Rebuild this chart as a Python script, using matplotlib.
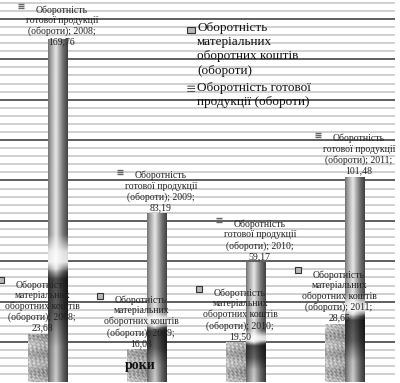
import numpy as np
import matplotlib.pyplot as plt
from matplotlib.transforms import offset_copy

years = ['2008', '2009', '2010', '2011']
materials = [23.68, 16.03, 19.50, 28.65]
products = [169.76, 83.19, 59.17, 101.48]
mat_name = 'Оборотність\nматеріальних\nоборотних коштів\n(обороти)'
prod_name = 'Оборотність готової\nпродукції (обороти)'
x_label = 'роки'

plt.rcParams['font.family'] = ['Liberation Serif', 'DejaVu Serif']

fig = plt.figure(figsize=(4, 3.83), dpi=100)
ax = fig.add_axes([0, 0, 0.9875, 1])

w = 0.2
x = np.arange(len(years))
# vertical pixel offset of the product labels (the first one sits on its bar)
prod_dy = [-7, 2, 2, 2]
line_px = 11.6


def fmt(v):
    return ('%.2f' % v).replace('.', ',')


def speckle(h):
    # stone-like texture for the materials bars
    ny = max(int(h * 2), 4)
    X, Y = np.meshgrid(np.arange(20), np.arange(ny))
    t = (0.72 + 0.10 * np.sin(0.9 * X + 1.2 * Y) * np.sin(0.55 * X - 0.8 * Y)
         + 0.07 * np.sin(1.3 * X - 0.7 * Y + 1.0) * np.cos(0.6 * Y + 0.3 * X)
         + 0.05 * np.sin(2.1 * X + 1.7 * Y))
    t = t + 0.06 * np.cos(0.35 * Y) - 0.10 * (X / 19.0)
    return np.clip(t, 0, 1)


def cylinder(h):
    # shaded column for the finished products bars
    ny = max(int(h * 2), 4)
    xs = np.linspace(0, 1, 24)
    hp = np.interp(xs, [0, 0.15, 0.4, 0.75, 1], [0.45, 0.65, 0.9, 0.45, 0.25])
    f = np.linspace(0, 1, ny)
    white = np.interp(f, [0, 0.57, 0.62, 0.65, 0.68, 1], [0, 0.05, 0.8, 0.85, 0, 0])
    dark = np.interp(f, [0, 0.67, 0.70, 0.8, 0.9, 1], [1, 1, 0.35, 0.45, 0.85, 0.9])
    img = hp[None, :] * (1 - white[:, None]) + white[:, None]
    img = img * dark[:, None]
    return np.clip(img, 0, 1)


for i in range(len(years)):
    ax.imshow(speckle(materials[i]), cmap='gray', vmin=0, vmax=1, aspect='auto',
              extent=[x[i] - w, x[i], 0, materials[i]], origin='lower',
              interpolation='bilinear', zorder=2)
    ax.imshow(cylinder(products[i]), cmap='gray', vmin=0, vmax=1, aspect='auto',
              extent=[x[i], x[i] + w, 0, products[i]], origin='upper',
              interpolation='bilinear', zorder=2)

# data labels
for i in range(len(years)):
    for xc, v, txt, n, key, dy in [
            (x[i] - w / 2, materials[i],
             'Оборотність\nматеріальних\nоборотних коштів\n(обороти); %s;\n%s' % (years[i], fmt(materials[i])),
             5, 'm', 2),
            (x[i] + w / 2, products[i],
             'Оборотність\nготової продукції\n(обороти); %s;\n%s' % (years[i], fmt(products[i])),
             4, 'p', prod_dy[i])]:
        ax.annotate(txt, xy=(xc, v), xytext=(4.5, dy), textcoords='offset pixels',
                    ha='center', va='bottom', fontsize=7, linespacing=1.2,
                    color='#222222', zorder=5, annotation_clip=False)
        ky = dy + 6 + (n - 1) * line_px
        tr = offset_copy(ax.transData, fig=fig, x=4.5 - 41, y=ky, units='dots')
        if key == 'm':
            ax.plot([xc], [v], marker='s', ms=4.5, mfc='#b8b8b8', mec='#333333',
                    mew=0.8, transform=tr, zorder=6, clip_on=False)
        else:
            ax.plot([xc], [v], marker='$\\equiv$', ms=5, color='#666666',
                    transform=tr, zorder=6, clip_on=False)

ax.set_xlim(-0.48, 3.51)
ax.set_ylim(-0.25, 189.35)
ax.set_yticks(np.arange(20, 190, 20))
ax.set_yticks(np.arange(4, 190, 4), minor=True)
ax.set_axisbelow(True)
ax.grid(axis='y', which='major', color='#333333', lw=1.1)
ax.grid(axis='y', which='minor', color='#cccccc', lw=1.3)
ax.set_xticks([])
ax.tick_params(axis='y', which='both', length=0, labelleft=False)
for s in ax.spines.values():
    s.set_visible(False)

# legend
fig.patches.append(plt.Rectangle((187 / 400, 1 - 33 / 383), 8 / 400, 6 / 383,
                                 transform=fig.transFigure, facecolor='#b8b8b8',
                                 edgecolor='#333333', lw=0.8))
fig.text(197 / 400, 1 - 22 / 383, mat_name, ha='left', va='top', fontsize=9.5,
         linespacing=1.25, color='#111111')
fig.text(191 / 400, 1 - 89 / 383, '≡', ha='center', va='center', fontsize=9,
         color='#555555', family='DejaVu Sans')
fig.text(197 / 400, 1 - 82 / 383, prod_name, ha='left', va='top', fontsize=9.5,
         linespacing=1.25, color='#111111')

fig.text(140 / 400, 1 - 366 / 383, x_label, ha='center', va='center', fontsize=10,
         fontweight='bold', color='#111111')

plt.savefig('out.png', dpi=100)
